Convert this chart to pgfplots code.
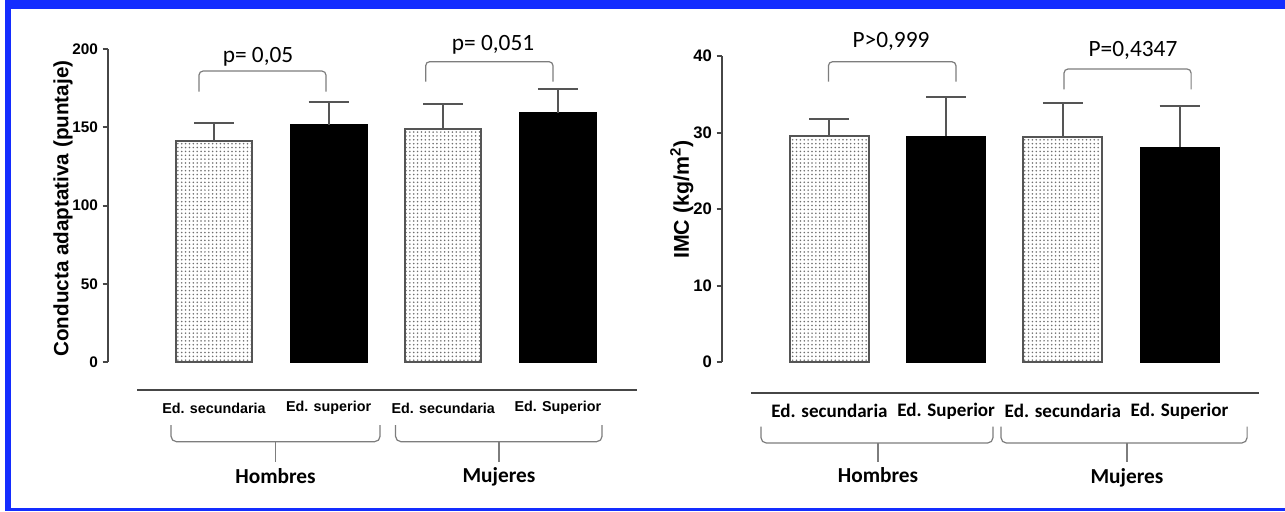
\documentclass[border=0pt]{standalone}
\usepackage{pgfplots}
\pgfplotsset{compat=1.18}
\usepackage{pgfplotstable}
\usepackage{fontspec}
\setmainfont{Liberation Sans}
\newfontfamily\carlito{Carlito}
\usetikzlibrary{patterns}
\pgfdeclarepatternformonly{mydots}{\pgfqpoint{-1pt}{-1pt}}{\pgfqpoint{1pt}{1pt}}{\pgfqpoint{2.9pt}{2.9pt}}%
{\pgfpathcircle{\pgfqpoint{0pt}{0pt}}{0.65pt}\pgfusepath{fill}}
\definecolor{bordblue}{RGB}{20,45,255}
\definecolor{axgray}{RGB}{70,70,70}
\definecolor{edgegray}{RGB}{85,85,85}
\definecolor{bracegray}{RGB}{125,125,125}
\definecolor{dotgray}{RGB}{110,110,110}

\pgfplotstableread{
x y e
0 141.2 11.7
2 149.1 15.8
}\leftsec
\pgfplotstableread{
x y e
1 151.6 14.5
3 159.3 15.1
}\leftsup
\pgfplotstableread{
x y e
0 29.5 2.3
2 29.45 4.45
}\rightsec
\pgfplotstableread{
x y e
1 29.5 5.2
3 28.07 5.33
}\rightsup

\pgfplotsset{
  myax/.style={scale only axis, axis x line=bottom, axis y line=left,
    x axis line style={draw=none}, y axis line style={draw=axgray, line width=1.5pt, -},
    xtick style={draw=none}, ytick style={draw=axgray, line width=1.5pt},
    tick align=outside, major tick length=4pt, clip=false,
    xtick={0,1,2,3}, /pgf/number format/assume math mode=true},
  secbar/.style={ybar, bar shift=0pt, draw=edgegray, line width=1.5pt,
    pattern=mydots, pattern color=dotgray,
    error bars/.cd, y dir=plus, y explicit,
    error bar style={line width=1.5pt, draw=edgegray, solid},
    error mark options={rotate=90, mark size=15pt, line width=1.5pt, draw=edgegray}},
  supbar/.style={ybar, bar shift=0pt, draw=black, fill=black, line width=0.5pt,
    error bars/.cd, y dir=plus, y explicit,
    error bar style={line width=1.5pt, draw=edgegray, solid},
    error mark options={rotate=90, mark size=15pt, line width=1.5pt, draw=edgegray}},
}

\begin{document}
\begin{tikzpicture}
\fill[white] (0,0) rectangle (963.75pt,383.25pt);
\useasboundingbox (0,0) rectangle (963.75pt,383.25pt);
\fill[bordblue] (3.75pt,376.5pt) rectangle (963.75pt,383.25pt);
\fill[bordblue] (3.75pt,0pt) rectangle (8.25pt,383.25pt);
\fill[bordblue] (3.75pt,0pt) rectangle (963.75pt,1.9pt);

% ---------------- left chart
\begin{axis}[myax, at={(81pt,111.75pt)}, anchor=south west,
  width=396.75pt, height=234.75pt,
  xmin=-0.925, xmax=3.691, ymin=0, ymax=200, ytick={0,50,...,200},
  yticklabel style={font=\bfseries\fontsize{11.5}{12}\selectfont},
  xticklabels={Ed. secundaria, Ed. superior, Ed. secundaria, Ed. Superior},
  xticklabel style={font=\bfseries\fontsize{10.75}{12}\selectfont, anchor=center, yshift=-30.5pt},
  ylabel={Conducta adaptativa (puntaje)},
  ylabel style={font=\bfseries\fontsize{15.5}{17}\selectfont, at={(axis description cs:-0.085,0.49)}, anchor=center},
  bar width=0.6675]
\addplot[secbar] table[x=x, y=y, y error=e] {\leftsec};
\addplot[supbar] table[x=x, y=y, y error=e] {\leftsup};
\draw[bracegray, line width=0.9pt, rounded corners=3pt] (axis cs:-0.131,172.7) -- (axis cs:-0.131,185.9) -- (axis cs:0.977,185.9) -- (axis cs:0.977,172.7);
\node[font=\carlito\fontsize{17.5}{20}\selectfont] at (axis cs:0.384,195.1) {p= 0,05};
\draw[bracegray, line width=0.9pt, rounded corners=3pt] (axis cs:1.847,179.1) -- (axis cs:1.847,191.9) -- (axis cs:2.958,191.9) -- (axis cs:2.958,179.1);
\node[font=\carlito\fontsize{17.5}{20}\selectfont] at (axis cs:2.435,202.6) {p= 0,051};
\draw[axgray, line width=1.5pt] (axis cs:-0.668,-17.9) -- (axis cs:3.691,-17.9);
\draw[bracegray, line width=0.9pt, rounded corners=4pt] (axis cs:-0.375,-40.3) -- (axis cs:-0.375,-50.9) -- (axis cs:1.449,-50.9) -- (axis cs:1.449,-40.3);
\draw[bracegray, line width=0.9pt] (axis cs:0.537,-50.9) -- (axis cs:0.537,-63.7);
\draw[bracegray, line width=0.9pt, rounded corners=4pt] (axis cs:1.584,-40.3) -- (axis cs:1.584,-50.9) -- (axis cs:3.386,-50.9) -- (axis cs:3.386,-40.3);
\draw[bracegray, line width=0.9pt] (axis cs:2.487,-50.9) -- (axis cs:2.487,-63.7);
\node[font=\carlito\bfseries\fontsize{16}{18}\selectfont] at (axis cs:0.537,-72.8) {Hombres};
\node[font=\carlito\bfseries\fontsize{16}{18}\selectfont] at (axis cs:2.487,-73.5) {Mujeres};
\end{axis}

% ---------------- right chart
\begin{axis}[myax, at={(541.5pt,111.75pt)}, anchor=south west,
  width=402.75pt, height=229.5pt,
  xmin=-0.921, xmax=3.681, ymin=0, ymax=40, ytick={0,10,...,40},
  yticklabel style={font=\bfseries\fontsize{12.5}{13}\selectfont},
  xticklabels={Ed. secundaria, Ed. Superior, Ed. secundaria, Ed. Superior},
  xticklabel style={font=\carlito\bfseries\fontsize{14.3}{16}\selectfont, anchor=center, yshift=-33pt},
  ylabel={IMC (kg/m$^{\mathbf{2}}$)},
  ylabel style={font=\bfseries\fontsize{16}{18}\selectfont, at={(axis description cs:-0.075,0.53)}, anchor=center},
  bar width=0.677]
\addplot[secbar] table[x=x, y=y, y error=e] {\rightsec};
\addplot[supbar] table[x=x, y=y, y error=e] {\rightsup};
\draw[bracegray, line width=0.9pt, rounded corners=3pt] (axis cs:-0.009,36.64) -- (axis cs:-0.009,39.25) -- (axis cs:1.084,39.25) -- (axis cs:1.084,36.64);
\node[font=\carlito\fontsize{17.5}{20}\selectfont] at (axis cs:0.527,41.87) {P>0,999};
\draw[bracegray, line width=0.9pt, rounded corners=3pt] (axis cs:2.01,35.65) -- (axis cs:2.01,38.3) -- (axis cs:3.099,38.3) -- (axis cs:3.099,35.65);
\node[font=\carlito\fontsize{17.5}{20}\selectfont] at (axis cs:2.601,40.78) {P=0,4347};
\draw[axgray, line width=1.5pt] (axis cs:-0.673,-4.05) -- (axis cs:3.681,-4.05);
\draw[bracegray, line width=0.9pt, rounded corners=4pt] (axis cs:-0.587,-8.46) -- (axis cs:-0.587,-10.59) -- (axis cs:1.401,-10.59) -- (axis cs:1.401,-8.46);
\draw[bracegray, line width=0.9pt] (axis cs:0.416,-10.59) -- (axis cs:0.416,-13.03);
\draw[bracegray, line width=0.9pt, rounded corners=4pt] (axis cs:1.47,-8.46) -- (axis cs:1.47,-10.59) -- (axis cs:3.579,-10.59) -- (axis cs:3.579,-8.46);
\draw[bracegray, line width=0.9pt] (axis cs:2.55,-10.59) -- (axis cs:2.55,-13.03);
\node[font=\carlito\bfseries\fontsize{16}{18}\selectfont] at (axis cs:0.416,-14.77) {Hombres};
\node[font=\carlito\bfseries\fontsize{16}{18}\selectfont] at (axis cs:2.55,-15.16) {Mujeres};
\end{axis}
\end{tikzpicture}
\end{document}
